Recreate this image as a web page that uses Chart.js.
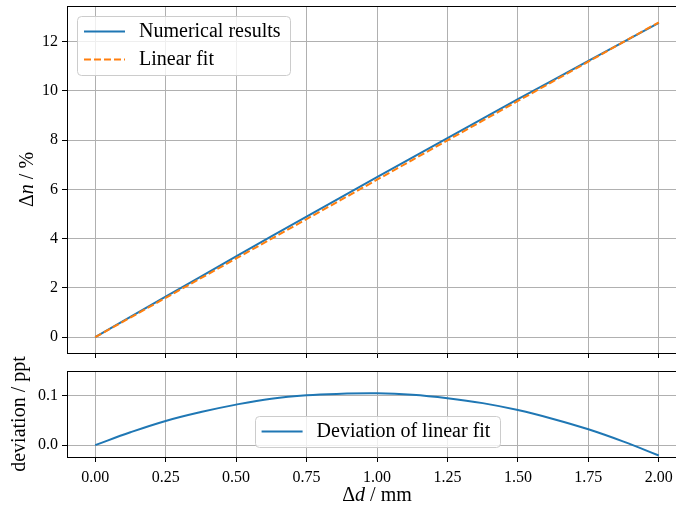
<!DOCTYPE html>
<html>
<head>
<meta charset="utf-8">
<script src="https://cdn.jsdelivr.net/npm/chart.js@4/dist/chart.umd.min.js"></script>
<style>
  body { margin: 0; background: #fff; overflow: hidden; }
  canvas { position: absolute; left: 0; }
  #top { top: 0; }
  #bottom { top: 330px; }
</style>
</head>
<body>
<canvas id="top" width="700" height="360"></canvas>
<canvas id="bottom" width="700" height="182"></canvas>
<script>
// --------------- DATA
var dispDelta = [0, 0.125, 0.25, 0.375, 0.5, 0.625, 0.75, 0.875, 1, 1.125, 1.25, 1.375, 1.5, 1.625, 1.75, 1.875, 2];
var numerical = [0, 0.825, 1.648, 2.465, 3.280, 4.091, 4.897, 5.700, 6.500, 7.296, 8.089, 8.878, 9.664, 10.445, 11.223, 11.998, 12.769];
var linearFit = [0, 0.799, 1.599, 2.398, 3.198, 3.997, 4.796, 5.596, 6.395, 7.194, 7.994, 8.793, 9.593, 10.392, 11.191, 11.991, 12.790];
var deviation = [0, 0.026, 0.049, 0.067, 0.082, 0.094, 0.101, 0.104, 0.105, 0.102, 0.095, 0.085, 0.071, 0.053, 0.032, 0.007, -0.021];

var xTicks = [0, 0.25, 0.5, 0.75, 1, 1.25, 1.5, 1.75, 2];
var topYTicks = [0, 2, 4, 6, 8, 10, 12];
var bottomYTicks = [0, 0.1];

var SERIF = '"Liberation Serif", "DejaVu Serif", serif';
var BLUE = '#1f77b4', ORANGE = '#ff7f0e';

function pts(ys) {
    return dispDelta.map(function (x, i) { return {x: x, y: ys[i]}; });
}
function fixedTicks(list) {
    return function (s) { s.ticks = list.map(function (v) { return {value: v}; }); };
}

// --------------- DRAW HELPERS
function drawRich(ctx, parts, x, y, rot) {
    ctx.save();
    ctx.translate(x, y);
    ctx.rotate(rot);
    ctx.textBaseline = 'middle';
    ctx.textAlign = 'left';
    ctx.fillStyle = '#000';
    var total = 0;
    parts.forEach(function (p) {
        ctx.font = (p[1] ? 'italic ' : '') + '20px ' + SERIF;
        total += ctx.measureText(p[0]).width;
    });
    var cx = -total / 2;
    parts.forEach(function (p) {
        ctx.font = (p[1] ? 'italic ' : '') + '20px ' + SERIF;
        ctx.fillText(p[0], cx, 0);
        cx += ctx.measureText(p[0]).width;
    });
    ctx.restore();
}

function roundBox(ctx, x, y, w, h, r) {
    ctx.beginPath();
    ctx.moveTo(x + r, y);
    ctx.arcTo(x + w, y, x + w, y + h, r);
    ctx.arcTo(x + w, y + h, x, y + h, r);
    ctx.arcTo(x, y + h, x, y, r);
    ctx.arcTo(x, y, x + w, y, r);
    ctx.closePath();
}

function drawLegend(chart, cfg) {
    var ctx = chart.ctx, a = chart.chartArea;
    ctx.save();
    ctx.font = '20px ' + SERIF;
    var tw = 0;
    cfg.items.forEach(function (it) { tw = Math.max(tw, ctx.measureText(it.label).width); });
    var w = 62 + tw + 9, h = 31 + (cfg.items.length - 1) * 28;
    var x, y;
    if (cfg.loc === 'upper left') {
        x = a.left + 10; y = a.top + 10;
    } else {
        x = (a.left + a.right) / 2 - w / 2; y = a.bottom - 10 - h;
    }
    roundBox(ctx, Math.round(x) + 0.5, Math.round(y) + 0.5, Math.round(w), h, 4);
    ctx.fillStyle = 'rgba(255,255,255,0.8)';
    ctx.fill();
    ctx.strokeStyle = '#cccccc';
    ctx.lineWidth = 1;
    ctx.stroke();
    cfg.items.forEach(function (it, i) {
        var cy = y + 15.5 + i * 28;
        ctx.beginPath();
        ctx.setLineDash(it.dash || []);
        ctx.strokeStyle = it.color;
        ctx.lineWidth = 2;
        ctx.moveTo(x + 7, cy);
        ctx.lineTo(x + 48, cy);
        ctx.stroke();
        ctx.setLineDash([]);
        ctx.fillStyle = '#000';
        ctx.textBaseline = 'middle';
        ctx.textAlign = 'left';
        ctx.fillText(it.label, x + 62, cy);
    });
    ctx.restore();
}

var decor = {
    id: 'decor',
    afterDraw: function (chart, args, opts) {
        var ctx = chart.ctx, a = chart.chartArea;
        // top spine
        ctx.save();
        ctx.strokeStyle = '#000';
        ctx.lineWidth = 1;
        ctx.beginPath();
        ctx.moveTo(a.left, Math.round(a.top) + 0.5);
        ctx.lineTo(a.right, Math.round(a.top) + 0.5);
        ctx.stroke();
        ctx.restore();
        if (opts.yTitle) drawRich(ctx, opts.yTitle, opts.yTitleX, (a.top + a.bottom) / 2, -Math.PI / 2);
        if (opts.xTitle) drawRich(ctx, opts.xTitle, (a.left + a.right) / 2, opts.xTitleY, 0);
        if (opts.legend) drawLegend(chart, opts.legend);
    }
};

function axisStyle(extra) {
    var base = {
        type: 'linear',
        grid: { color: '#b0b0b0', lineWidth: 1, tickColor: '#000', tickLength: 5, tickWidth: 1 },
        border: { color: '#000', width: 1 },
        ticks: { color: '#000', font: { family: SERIF, size: 16 }, padding: 4 }
    };
    for (var k in extra) {
        if (typeof extra[k] === 'object' && base[k]) {
            for (var j in extra[k]) base[k][j] = extra[k][j];
        } else {
            base[k] = extra[k];
        }
    }
    return base;
}

// fixed axis sizes, no extra label padding pushed onto the layout
function fixWidth(w) {
    return function (s) { s.width = w; s.paddingTop = 0; s.paddingBottom = 0; };
}
function fixHeight(h) {
    return function (s) { s.height = h; s.paddingLeft = 0; s.paddingRight = 0; };
}

// --------------- TOP GRAPH
new Chart(document.getElementById('top'), {
    type: 'line',
    data: {
        datasets: [{
            label: 'Numerical results',
            data: pts(numerical),
            borderColor: BLUE,
            borderWidth: 2,
            pointRadius: 0,
            order: 2
        }, {
            label: 'Linear fit',
            data: pts(linearFit),
            borderColor: ORANGE,
            borderWidth: 2,
            borderDash: [7, 3],
            pointRadius: 0,
            order: 1
        }]
    },
    options: {
        responsive: false,
        animation: false,
        layout: { padding: { top: 6, right: 13, left: 0, bottom: 0 } },
        plugins: {
            legend: { display: false },
            tooltip: { enabled: false },
            decor: {
                yTitle: [['Δ', false], ['n', true], [' / %', false]],
                yTitleX: 28,
                legend: {
                    loc: 'upper left',
                    items: [
                        { label: 'Numerical results', color: BLUE },
                        { label: 'Linear fit', color: ORANGE, dash: [7, 3] }
                    ]
                }
            }
        },
        scales: {
            x: axisStyle({
                min: -0.1, max: 2.1,
                afterBuildTicks: fixedTicks(xTicks),
                afterFit: fixHeight(7),
                ticks: { display: false }
            }),
            y: axisStyle({
                min: -0.64, max: 13.45,
                afterBuildTicks: fixedTicks(topYTicks),
                afterFit: fixWidth(67),
                ticks: { callback: function (v) { return String(v); } }
            })
        }
    },
    plugins: [decor]
});

// --------------- BOTTOM GRAPH
new Chart(document.getElementById('bottom'), {
    type: 'line',
    data: {
        datasets: [{
            label: 'Deviation of linear fit',
            data: pts(deviation),
            borderColor: BLUE,
            borderWidth: 2,
            pointRadius: 0,
            tension: 0.4
        }]
    },
    options: {
        responsive: false,
        animation: false,
        layout: { padding: { top: 41, right: 13, left: 0, bottom: 0 } },
        plugins: {
            legend: { display: false },
            tooltip: { enabled: false },
            decor: {
                yTitle: [['deviation / ppt', false]],
                yTitleX: 20,
                xTitle: [['Δ', false], ['d', true], [' / mm', false]],
                xTitleY: 166,
                legend: {
                    loc: 'lower center',
                    items: [{ label: 'Deviation of linear fit', color: BLUE }]
                }
            }
        },
        scales: {
            x: axisStyle({
                min: -0.1, max: 2.1,
                afterBuildTicks: fixedTicks(xTicks),
                afterFit: fixHeight(55),
                ticks: { padding: 6, callback: function (v) { return v.toFixed(2); } }
            }),
            y: axisStyle({
                min: -0.024, max: 0.15,
                afterBuildTicks: fixedTicks(bottomYTicks),
                afterFit: fixWidth(67),
                ticks: { callback: function (v) { return v.toFixed(1); } }
            })
        }
    },
    plugins: [decor]
});
</script>
</body>
</html>
